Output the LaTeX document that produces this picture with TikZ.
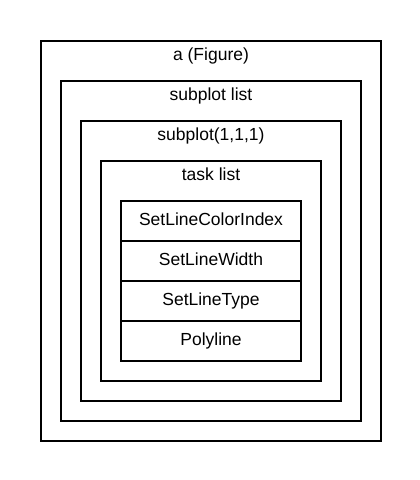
\documentclass[tikz,border=0pt]{standalone}
\usepackage{fontspec}
\setmainfont{Liberation Sans}
\begin{document}
\begin{tikzpicture}[x=1pt,y=-1pt,
  box/.style={draw, line width=2pt, rectangle, inner sep=0pt, anchor=north west},
  lbl/.style={font=\fontsize{17.5}{20}\selectfont, anchor=base, inner sep=0pt},
  rowbox/.style={draw, line width=2pt, rectangle, inner sep=0pt, anchor=north west,
    minimum width=180pt, minimum height=40pt, font=\fontsize{17.5}{20}\selectfont,
    text height=12pt, text depth=3pt}]
\fill[white] (0,0) rectangle (420,480);
\useasboundingbox (0,0) rectangle (420,480);
\node[box, minimum width=340pt, minimum height=400pt] (fig) at (40,40) {};
\node[box, minimum width=300pt, minimum height=340pt] (splist) at (60,80) {};
\node[box, minimum width=260pt, minimum height=280pt] (sp) at (80,120) {};
\node[box, minimum width=220pt, minimum height=220pt] (tasks) at (100,160) {};
\node[lbl] (figlbl) at ([yshift=-20.5pt]fig.north) {a (Figure)};
\node[lbl] (spllbl) at ([yshift=-20.5pt]splist.north) {subplot list};
\node[lbl] (splbl) at ([yshift=-20.5pt]sp.north) {subplot(1,1,1)};
\node[lbl] (tasklbl) at ([yshift=-20.5pt]tasks.north) {task list};
\node[rowbox] (r1) at (120,200) {SetLineColorIndex};
\node[rowbox] (r2) at (120,240) {SetLineWidth};
\node[rowbox] (r3) at (120,280) {SetLineType};
\node[rowbox] (r4) at (120,320) {Polyline};
\end{tikzpicture}
\end{document}
